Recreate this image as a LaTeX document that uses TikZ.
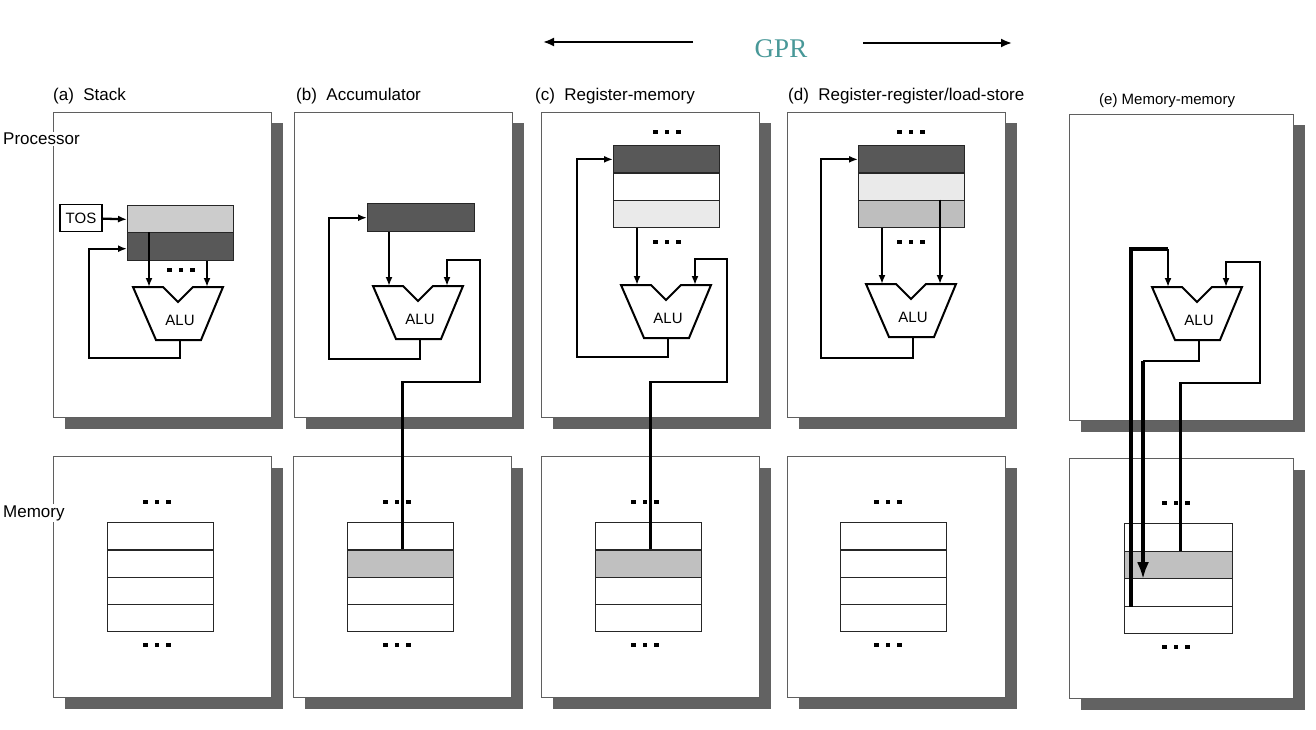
\documentclass[tikz,border=0pt]{standalone}
\usepackage{fontspec}
\setmainfont{Liberation Sans}
\newfontfamily\gprfont{Liberation Serif}
\usepackage{xcolor}
\usepackage{tikz}
\usetikzlibrary{arrows.meta}
\usetikzlibrary{shadows}

\definecolor{regdark}{RGB}{88,88,88}
\definecolor{shadowgray}{RGB}{98,98,98}
\definecolor{boxline}{RGB}{95,95,95}
\definecolor{gprteal}{RGB}{72,152,152}
\definecolor{tosgray}{RGB}{204,204,204}
\definecolor{memgray}{RGB}{192,192,192}
\definecolor{reglight}{RGB}{234,234,234}
\definecolor{regmid}{RGB}{190,190,190}

% ALU: name, centre x, top y
\newcommand{\aluunit}[3]{%
    \draw[line width=2pt,fill=white] (#2-45,#3) -- (#2-15,#3) -- (#2,#3+15) -- (#2+15,#3)
        -- (#2+45,#3) -- (#2+23,#3+53) -- (#2-22,#3+53) -- cycle;
    \node[alutext] (#1) at (#2+2,#3+33) {ALU};
    \coordinate (#1-l) at (#2-29,#3);
    \coordinate (#1-r) at (#2+29,#3);
    \coordinate (#1-o) at (#2+2,#3+53);}
\newcommand{\threedots}[2]{%
    \foreach \k in {-1,0,1} {\fill (#1+\k*11.5-2.2,#2-2.2) rectangle (#1+\k*11.5+2.2,#2+2.2);}}

\begin{document}
\begin{tikzpicture}[x=1pt,y=-1pt,
    >={Latex[length=9pt,width=7pt]},
    panel/.style={draw=boxline,line width=1pt,fill=white,anchor=north west,minimum width=218pt,
        drop shadow={shadow xshift=11pt,shadow yshift=-11pt,fill=shadowgray,opacity=1}},
    cell/.style={draw=black!85,line width=1.2pt,anchor=north west,minimum width=106pt,
        minimum height=27.3pt,inner sep=0pt},
    reg/.style={cell,line width=1.4pt,minimum height=27.3pt},
    wire/.style={line width=2.3pt},
    bus/.style={line width=4pt},
    lbl/.style={font=\fontsize{17}{20}\selectfont,anchor=base west,inner sep=0pt},
    side/.style={font=\fontsize{17}{20}\selectfont,anchor=west,fill=white,inner sep=1pt},
    alutext/.style={font=\fontsize{15}{18}\selectfont}]
    \useasboundingbox (0,0) rectangle (1316,730);

    % panels
    \node[panel,minimum height=305pt] (procA) at (53,112) {};
    \node[panel,minimum height=305pt] (procB) at (294,112) {};
    \node[panel,minimum height=305pt] (procC) at (541,112) {};
    \node[panel,minimum height=305pt] (procD) at (787,112) {};
    \node[panel,minimum height=306pt,minimum width=224pt] (procE) at (1069,114) {};
    \node[panel,minimum height=241pt] (memoryA) at (53,456) {};
    \node[panel,minimum height=241pt] (memoryB) at (293,456) {};
    \node[panel,minimum height=241pt] (memoryC) at (541,456) {};
    \node[panel,minimum height=241pt] (memoryD) at (787,456) {};
    \node[panel,minimum height=240pt,minimum width=224pt] (memoryE) at (1069,458) {};

    % labels
    \node[font=\gprfont\fontsize{27}{30}\selectfont,text=gprteal] (gpr) at (781,49) {GPR};
    \coordinate (gprL0) at (693,42);
    \coordinate (gprL1) at (543,42);
    \coordinate (gprR0) at (863,43);
    \coordinate (gprR1) at (1012,43);
    \draw[line width=2pt,-{Latex[length=11pt,width=9pt]}] (gprL0) -- (gprL1);
    \draw[line width=2pt,-{Latex[length=11pt,width=9pt]}] (gprR0) -- (gprR1);
    \node[lbl] (labA) at (53,101) {(a)\ \ Stack};
    \node[lbl] (labB) at (296,101) {(b)\ \ Accumulator};
    \node[lbl] (labC) at (535,101) {(c)\ \ Register-memory};
    \node[lbl] (labD) at (788,101) {(d)\ \ Register-register/load-store};
    \node[lbl,font=\fontsize{15}{18}\selectfont] (labE) at (1099,105) {(e) Memory-memory};
    \node[side] (procLab) at (2,139) {Processor};
    \node[side] (memLab) at (2,513) {Memory};

    % memory cells
    \foreach \i/\c in {0/white,1/white,2/white,3/white}
        \node[cell,fill=\c] (memA-\i) at (107,522+27.3*\i) {};
    \foreach \i/\c in {0/white,1/memgray,2/white,3/white}
        \node[cell,fill=\c] (memB-\i) at (347,522+27.3*\i) {};
    \foreach \i/\c in {0/white,1/memgray,2/white,3/white}
        \node[cell,fill=\c] (memC-\i) at (595,522+27.3*\i) {};
    \foreach \i/\c in {0/white,1/white,2/white,3/white}
        \node[cell,fill=\c] (memD-\i) at (840,522+27.3*\i) {};
    \foreach \i/\c in {0/white,1/memgray,2/white,3/white}
        \node[cell,fill=\c,minimum width=108pt,minimum height=27.5pt] (memE-\i) at (1124,523+27.5*\i) {};
    \threedots{157}{502} \threedots{157}{645}
    \threedots{397}{502} \threedots{397}{645}
    \threedots{645}{502} \threedots{645}{645}
    \threedots{888}{502} \threedots{888}{645}
    \threedots{1176}{503} \threedots{1176}{647}

    % (a) stack
    \node[draw,line width=1.1pt,minimum width=42pt,minimum height=27pt,inner sep=0pt,
        font=\fontsize{15}{18}\selectfont] (tos) at (81,218) {TOS};
    \node[reg,fill=tosgray] (stkA0) at (127,205) {};
    \node[reg,fill=regdark,minimum height=28pt] (stkA1) at (127,232) {};
    \threedots{181}{270}
    \aluunit{aluA}{178}{287}
    \coordinate (fbA) at (89,358);
    \draw[wire,->] (tos) -- (stkA0.west);
    \draw[wire,->] (aluA-l |- stkA1.north) -- (aluA-l);
    \draw[wire,->] (aluA-r |- stkA1.south) -- (aluA-r);
    \draw[wire,->] (aluA-o) |- (fbA) |- ([yshift=-2pt]stkA1.west);

    % (b) accumulator
    \node[reg,fill=regdark,minimum width=107pt,minimum height=28pt] (acc) at (367,203) {};
    \aluunit{aluB}{418}{286}
    \coordinate (fbB) at (329,359);
    \coordinate (inB1) at (480,382);
    \coordinate (inB2) at (480,260);
    \draw[wire,->] (aluB-l |- acc.south) -- (aluB-l);
    \draw[wire,->] (aluB-o) |- (fbB) |- (acc.west);
    \draw[wire,->] ([xshift=2pt]memB-1.north) |- (inB1) -- (inB2) -| (aluB-r);

    % (c) register-memory
    \threedots{667}{132}
    \node[reg,fill=regdark] (regC0) at (613,145) {};
    \node[reg,fill=white] (regC1) at (613,172.3) {};
    \node[reg,fill=reglight] (regC2) at (613,199.6) {};
    \threedots{667}{242}
    \aluunit{aluC}{666}{285}
    \coordinate (fbC) at (577,357);
    \coordinate (inC1) at (727,382);
    \coordinate (inC2) at (727,259);
    \draw[wire,->] (aluC-l |- regC2.south) -- (aluC-l);
    \draw[wire,->] (aluC-o) |- (fbC) |- (regC0.west);
    \draw[wire,->] ([xshift=2pt]memC-1.north) |- (inC1) -- (inC2) -| (aluC-r);

    % (d) register-register
    \threedots{911}{132}
    \node[reg,fill=regdark] (regD0) at (858,145) {};
    \node[reg,fill=reglight] (regD1) at (858,172.3) {};
    \node[reg,fill=regmid] (regD2) at (858,199.6) {};
    \threedots{911}{242}
    \aluunit{aluD}{911}{284}
    \coordinate (fbD) at (821,358);
    \draw[wire,->] (aluD-l |- regD2.south) -- (aluD-l);
    \draw[wire,->] (aluD-r |- regD2.north) -- (aluD-r);
    \draw[wire,->] (aluD-o) |- (fbD) |- (regD0.west);

    % (e) memory-memory
    \aluunit{aluE}{1197}{287}
    \coordinate (busE1) at (1131,249);
    \coordinate (busE2) at (1143,361);
    \coordinate (inE1) at (1260,383);
    \coordinate (inE2) at (1260,262);
    \draw[bus] ([xshift=7pt]memE-2.south west) -- (busE1) -- (aluE-l |- busE1);
    \draw[wire,->] (aluE-l |- busE1) -- (aluE-l);
    \draw[wire] (aluE-o) |- (busE2);
    \draw[bus,-{Latex[length=17pt,width=12pt]}] (busE2) -- ([xshift=19pt]memE-1.south west);
    \draw[wire,->] ([xshift=2pt]memE-1.north) |- (inE1) -- (inE2) -| (aluE-r);
\end{tikzpicture}
\end{document}
